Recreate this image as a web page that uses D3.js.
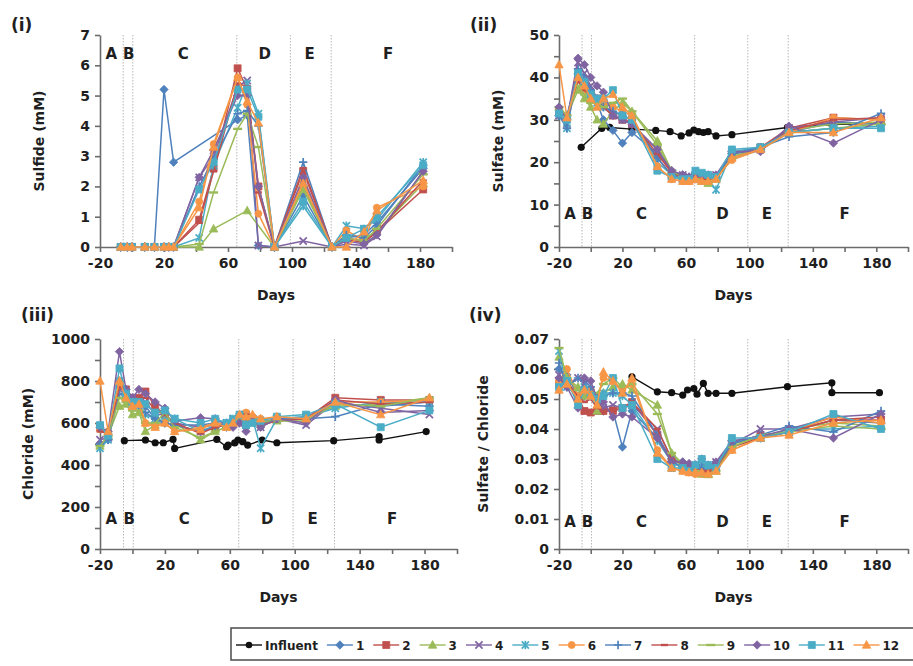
<!DOCTYPE html>
<html><head><meta charset="utf-8">
<script src="https://cdn.jsdelivr.net/npm/d3@7"></script>
<style>
body{margin:0;background:#fff;}
svg{display:block;}
text{font-family:"DejaVu Sans","Liberation Sans",Arial,sans-serif;font-weight:bold;fill:#1f1f1f;}
</style>
</head><body>
<svg id="chart" width="913" height="666"></svg>
<script>
// ---------- DATA ----------
const seriesNames = ["1","2","3","4","5","6","7","8","9","10","11","12"];
const seriesColors = ["#4F81BD","#C0504D","#9BBB59","#8064A2","#4BACC6","#F79646",
                      "#4F81BD","#C0504D","#9BBB59","#8064A2","#4BACC6","#F79646"];
const seriesMarkers = ["diamond","square","triangle","x","star","circle","plus","dash","longdash","diamond","square","triangle"];

const phaseLetters = ["A","B","C","D","E","F"];
const phaseLabelDays = [-13,-2,32,83,111,160];
const phaseBoundaryDays = [-5.5,0.5,65.5,99,124.5];
const xTickLabels = [-20,20,60,100,140,180];

const sulfideDays = [-7,-3,0,8,14,20,23,26,42,51,66,72,79,89,107,125,134,145,153,182];
const reactorDays = [-20,-15,-8,-4,0,4,8,14,20,26,42,51,58,62,66,70,74,79,89,107,125,153,183];

const sulfide = [
 [0,0,0,0,0,5.2,null,2.8,null,null,4.2,4.35,0.05,0,1.7,0,0.3,0.4,0.8,2.6],
 [0,0,0,0,0,0,0,0,0.9,2.6,5.9,5.2,2.0,0,2.5,0,0.3,0.2,0.5,1.9],
 [0,0,0,0,0,0,0,0,0,0.6,null,1.2,null,0,1.9,0,0.4,0.3,0.5,2.1],
 [0,0,0,0,0,0,0,0,2.3,3.0,5.3,5.5,0.05,0,0.2,0,0.1,0.05,0.35,2.5],
 [0,0,0,0,0,0,0,0,0.3,2.7,4.6,5.4,4.4,0,1.35,0,0.7,0.6,0.9,2.8],
 [0,0,0,0,0,0,0,0,1.5,3.4,5.6,4.7,1.1,0,2.2,0,0.55,0.2,1.3,2.0],
 [0,0,0,0,0,0,0,0,2.0,2.9,4.4,4.5,4.0,0,2.8,0,0.4,0.3,0.7,2.7],
 [0,0,0,0,0,0,0,0,0.8,2.5,5.4,5.3,1.8,0,2.6,0,0.25,0.15,0.5,2.2],
 [0,0,0,0,0,0,0,0,0.1,1.8,3.9,4.4,3.3,0,2.0,0,0.3,0.2,0.6,2.4],
 [0,0,0,0,0,0,0,0,2.3,3.2,5.0,5.0,2.0,0,2.3,0,0.2,0.1,0.4,2.5],
 [0,0,0,0,0,0,0,0,1.9,2.8,5.2,5.2,4.3,0,1.5,0,0.3,0.6,1.0,2.7],
 [0,0,0,0,0,0,0,0,1.3,3.3,5.6,4.8,4.1,0,2.1,0,0,0.5,1.2,2.2]
];

const sulfate = [
 [31,31,41,38,36,34,30,27.5,24.5,27,22,18,17,16.5,17.5,17,16.5,16.5,22,23,27,29.5,29],
 [32,30.5,40,38,36,35,34,31,30,29,21,17,16,16,16,16.5,16,16.5,22,23.5,28,30.5,30],
 [33,31,37,35,33,30,29,32,34,32,25,18,16.5,16,16,15.5,15,16,21.5,23,27.5,29,29.5],
 [31,29,43.5,41,38,35,33,31,30,29,23,17.5,17,16.5,17,17,16.5,17,22,23,28,29.5,30.5],
 [31.5,28,41,39,36,34,33,32,31,30,20,17,16,16,17,16.5,16,13.5,22.5,23.5,27,28,28.5],
 [32,30.5,40,37,36,35,34,33,32,31,19,16,15.5,15.5,16,16,16,16.5,20.5,23,27,30.5,30],
 [31,28,42,40,37,35,33,32,31,30,21,17,16.5,16,17.5,17,16.5,16.5,22,23.5,26,27,31.5],
 [32,30,39,37,35.5,34,33,31,30,29.5,22,17.5,16.5,16,16.5,16,16,16,21,23,27.5,30,30.5],
 [33,31,38,36,34,34,33,34,35,32,24,18,16.5,16,16,15.5,15,16,21,23,27,28,29],
 [33,30,44.5,43,40,38,36.5,31,30,29,23,18,17,16.5,17,17,17,17,22.5,22.5,28.5,24.5,30],
 [31.5,30,41,39,36,35,35,37,31,30,18,16.5,16,16,18,17.5,17,16.5,23,23.5,27,28,28],
 [43,30.5,40,38,35,33,35,36,33,31,19,16,15.5,15.5,16,15.5,15.5,16,21,23,27,27,30.5]
];

const chloride = [
 [500,520,800,740,700,690,680,620,600,590,590,600,580,600,620,620,610,600,620,630,690,680,700],
 [580,540,780,760,720,720,750,680,640,590,560,580,590,600,620,640,620,600,620,620,720,710,710],
 [490,540,680,690,640,650,560,590,620,600,520,560,580,600,610,620,610,600,610,620,680,690,720],
 [520,530,760,740,720,700,700,640,640,600,580,590,600,620,630,640,620,580,620,590,700,670,640],
 [480,520,800,720,690,680,640,620,610,620,560,590,600,610,630,590,620,480,620,630,670,700,700],
 [570,560,780,720,680,700,600,590,600,560,580,600,590,610,640,650,630,620,620,620,700,700,710],
 [500,520,740,720,690,680,650,620,600,590,560,580,600,610,620,630,610,600,620,620,630,690,680],
 [560,550,770,750,710,720,720,660,640,600,550,580,590,600,620,640,620,590,610,620,710,690,700],
 [490,540,720,700,660,660,600,600,650,580,530,560,580,610,620,630,620,610,610,610,690,680,720],
 [580,560,940,760,720,760,740,700,670,610,625,620,590,580,600,560,610,580,620,600,710,650,660],
 [590,540,860,740,700,700,690,650,660,620,600,620,600,620,640,590,600,610,630,640,690,580,660],
 [800,560,800,720,680,690,600,580,600,560,570,600,580,600,640,630,640,620,630,620,700,640,720]
];

const ratio = [
 [0.060,0.058,0.051,0.051,0.051,0.049,0.046,0.046,0.034,0.046,0.037,0.030,0.029,0.0275,0.028,0.0275,0.027,0.0275,0.036,0.037,0.039,0.043,0.042],
 [0.055,0.056,0.051,0.046,0.0455,0.046,0.046,0.046,0.047,0.049,0.038,0.029,0.027,0.0265,0.026,0.026,0.026,0.028,0.035,0.038,0.039,0.043,0.043],
 [0.064,0.057,0.054,0.051,0.052,0.046,0.052,0.054,0.055,0.053,0.048,0.032,0.028,0.027,0.026,0.025,0.025,0.026,0.035,0.037,0.040,0.042,0.041],
 [0.058,0.055,0.057,0.055,0.053,0.050,0.047,0.048,0.047,0.048,0.040,0.030,0.028,0.027,0.027,0.0265,0.027,0.029,0.035,0.040,0.040,0.044,0.045],
 [0.066,0.054,0.051,0.054,0.052,0.050,0.052,0.052,0.051,0.048,0.036,0.029,0.027,0.026,0.027,0.028,0.026,0.028,0.036,0.037,0.040,0.040,0.041],
 [0.056,0.060,0.051,0.052,0.053,0.050,0.057,0.056,0.053,0.055,0.033,0.027,0.026,0.0255,0.025,0.025,0.025,0.0265,0.033,0.037,0.039,0.044,0.042],
 [0.062,0.054,0.057,0.056,0.054,0.051,0.051,0.052,0.052,0.051,0.038,0.029,0.0275,0.026,0.028,0.027,0.027,0.0275,0.035,0.038,0.041,0.039,0.046],
 [0.057,0.055,0.051,0.049,0.050,0.047,0.046,0.047,0.047,0.049,0.040,0.030,0.028,0.027,0.0265,0.025,0.026,0.027,0.034,0.037,0.039,0.043,0.044],
 [0.067,0.057,0.053,0.051,0.052,0.052,0.055,0.057,0.054,0.055,0.045,0.032,0.0285,0.026,0.026,0.0245,0.024,0.026,0.034,0.038,0.039,0.041,0.040],
 [0.057,0.054,0.047,0.057,0.056,0.050,0.049,0.044,0.045,0.044,0.037,0.029,0.029,0.0285,0.028,0.030,0.028,0.029,0.036,0.0375,0.040,0.037,0.045],
 [0.054,0.056,0.048,0.053,0.051,0.050,0.051,0.057,0.047,0.048,0.030,0.027,0.027,0.026,0.028,0.030,0.028,0.027,0.037,0.037,0.039,0.045,0.040],
 [0.053,0.055,0.050,0.053,0.051,0.048,0.059,0.056,0.052,0.057,0.032,0.027,0.026,0.0255,0.0255,0.0255,0.025,0.026,0.033,0.037,0.038,0.042,0.043]
];

const influentSulfateDays = [-6,7,12,26,41,50,57,62,65,68,71,74,79,89,124,152,182];
const influentSulfate     = [23.5,28,28.2,27.8,27.5,27.2,26.2,26.9,27.6,27.2,27.0,27.2,26.2,26.5,28.2,28.9,29.2];
const influentChlorideDays = [-5,8,14,19,25,26,52,58,59,63,65,68,71,80,89,124,152,152,181];
const influentChloride     = [516,519,506,506,522,479,522,487,495,505,519,511,495,519,506,516,535,519,559];
const influentRatioDays = [26,42,51,58,61,65,67,71,74,79,89,124,152,152,182];
const influentRatio     = [0.0574,0.0524,0.0521,0.0513,0.053,0.0535,0.0516,0.0552,0.0519,0.0519,0.0519,0.0541,0.0554,0.0521,0.0521];

// ---------- DRAWING ----------
const svg = d3.select("#chart");

function markerPath(type){
  switch(type){
    case "diamond": return "M0,-4.2L4.2,0L0,4.2L-4.2,0Z";
    case "square": return "M-3.5,-3.5H3.5V3.5H-3.5Z";
    case "triangle": return "M0,-4.4L4.2,3.2H-4.2Z";
    case "x": return "M-3.6,-3.6L3.6,3.6M-3.6,3.6L3.6,-3.6";
    case "star": return "M-3.6,-3.6L3.6,3.6M-3.6,3.6L3.6,-3.6M0,-4.2V4.2";
    case "circle": return "M3.5,0A3.5,3.5 0 1,1 -3.5,0A3.5,3.5 0 1,1 3.5,0Z";
    case "plus": return "M-4.2,0H4.2M0,-4.2V4.2";
    case "dash": return "M-3.5,0H3.5";
    case "longdash": return "M-4.5,0H4.5";
  }
}
const strokeOnly = t => ["x","star","plus","dash","longdash"].includes(t);

function drawMarker(g, type, color, x, y){
  const p = g.append("path").attr("d", markerPath(type))
    .attr("transform", `translate(${x},${y})`);
  if (strokeOnly(type)) p.attr("fill","none").attr("stroke",color).attr("stroke-width", (type==="dash"||type==="longdash")?2.4:1.7);
  else p.attr("fill",color).attr("stroke",color).attr("stroke-width",0.8);
}

const panels = [
  {label:"(i)", lx:11, ly:31, x0:100, x1:452, y0:247, y1:35, yMax:7, tickStep:1, labelStep:1,
   fmt:d=>d, title:"Sulfide (mM)", tx:44, days:sulfideDays, data:sulfide, inf:null,
   phaseY:0.915},
  {label:"(ii)", lx:470, ly:31, x0:559, x1:908, y0:247, y1:35, yMax:50, tickStep:5, labelStep:10,
   fmt:d=>d, title:"Sulfate (mM)", tx:503, days:reactorDays, data:sulfate,
   inf:[influentSulfateDays, influentSulfate], phaseY:0.16},
  {label:"(iii)", lx:21, ly:321, x0:100, x1:457, y0:549, y1:339, yMax:1000, tickStep:100, labelStep:200,
   fmt:d=>d, title:"Chloride (mM)", tx:33, days:reactorDays, data:chloride,
   inf:[influentChlorideDays, influentChloride], phaseY:0.148},
  {label:"(iv)", lx:469, ly:321, x0:559, x1:908, y0:549, y1:339, yMax:0.07, tickStep:0.01, labelStep:0.01,
   fmt:d=>d===0?"0":d3.format(".2f")(d), title:"Sulfate / Chloride", tx:488, days:reactorDays, data:ratio,
   inf:[influentRatioDays, influentRatio], phaseY:0.134}
];

panels.forEach(P=>{
  const g = svg.append("g");
  const x = d3.scaleLinear().domain([-20,200]).range([P.x0,P.x1]);
  const y = d3.scaleLinear().domain([0,P.yMax]).range([P.y0,P.y1]);

  // phase boundaries
  phaseBoundaryDays.forEach(d=>{
    g.append("line").attr("x1",x(d)).attr("x2",x(d)).attr("y1",P.y1).attr("y2",P.y0)
      .attr("stroke","#b8b8b8").attr("stroke-width",1).attr("stroke-dasharray","1.5,1.5");
  });

  // axes
  const nT = Math.round(P.yMax/P.tickStep);
  const yTicks = d3.range(0,nT+1).map(i=>+(i*P.tickStep).toFixed(4));
  const ya = d3.axisLeft(y).tickValues(yTicks).tickSize(5).tickSizeOuter(0).tickPadding(5)
    .tickFormat(d=>{ const k = d/P.labelStep; return Math.abs(k-Math.round(k))<1e-6 ? P.fmt(d) : ""; });
  const gy = g.append("g").attr("transform",`translate(${P.x0},0)`).call(ya);
  const xa = d3.axisBottom(x).tickValues(d3.range(-20,201,20)).tickSize(5).tickSizeOuter(0).tickPadding(6)
    .tickFormat(d=> xTickLabels.includes(d)? d : "");
  const gx = g.append("g").attr("transform",`translate(0,${P.y0})`).call(xa);
  [gx,gy].forEach(a=>{
    a.selectAll("path,line").attr("stroke","#6b6b6b").attr("stroke-width",1.6);
    a.selectAll("text").attr("font-size",14).attr("font-family",'"DejaVu Sans",sans-serif')
      .attr("font-weight","bold").attr("fill","#1f1f1f");
  });

  // titles
  g.append("text").attr("x",(P.x0+P.x1)/2).attr("y",P.y0+53).attr("text-anchor","middle")
    .attr("font-size",14).text("Days");
  g.append("text").attr("transform",`translate(${P.tx},${(P.y0+P.y1)/2}) rotate(-90)`)
    .attr("text-anchor","middle").attr("font-size",14).text(P.title);
  g.append("text").attr("x",P.lx).attr("y",P.ly).attr("font-size",17).text(P.label);

  // phase letters
  phaseLetters.forEach((L,i)=>{
    g.append("text").attr("x",x(phaseLabelDays[i])).attr("y",y(P.yMax*P.phaseY)+6)
      .attr("text-anchor","middle").attr("font-size",15).text(L);
  });

  const line = d3.line().x(d=>x(d[0])).y(d=>y(d[1]));

  // influent
  if (P.inf){
    const pts = P.inf[0].map((d,j)=>[d,P.inf[1][j]]);
    g.append("path").attr("d",line(pts)).attr("fill","none").attr("stroke","#111").attr("stroke-width",1.4);
    pts.forEach(p=> g.append("circle").attr("cx",x(p[0])).attr("cy",y(p[1])).attr("r",3.6).attr("fill","#111"));
  }

  // reactors
  P.data.forEach((vals,i)=>{
    const pts = P.days.map((d,j)=>[d,vals[j]]).filter(p=>p[1]!==null);
    g.append("path").attr("d",line(pts)).attr("fill","none")
      .attr("stroke",seriesColors[i]).attr("stroke-width",1.5);
    pts.forEach(p=> drawMarker(g, seriesMarkers[i], seriesColors[i], x(p[0]), y(p[1])));
  });
});

// ---------- LEGEND ----------
const lg = svg.append("g");
lg.append("rect").attr("x",231).attr("y",628).attr("width",700).attr("height",32)
  .attr("fill","#fff").attr("stroke","#555").attr("stroke-width",1.6);
const entries = [{name:"Influent",color:"#111",marker:"circleBig"}]
  .concat(seriesNames.map((n,i)=>({name:n,color:seriesColors[i],marker:seriesMarkers[i]})));
let cx = 236;
const ly = 645;
entries.forEach(e=>{
  lg.append("line").attr("x1",cx).attr("x2",cx+26).attr("y1",ly).attr("y2",ly)
    .attr("stroke",e.color).attr("stroke-width",1.4);
  if (e.marker==="circleBig") lg.append("circle").attr("cx",cx+13).attr("cy",ly).attr("r",3.3).attr("fill",e.color);
  else drawMarker(lg, e.marker, e.color, cx+13, ly);
  const t = lg.append("text").attr("x",cx+29).attr("y",ly+4.5).attr("font-size",12).text(e.name);
  cx = cx + 29 + t.node().getComputedTextLength() + 9;
});
</script>
</body></html>
